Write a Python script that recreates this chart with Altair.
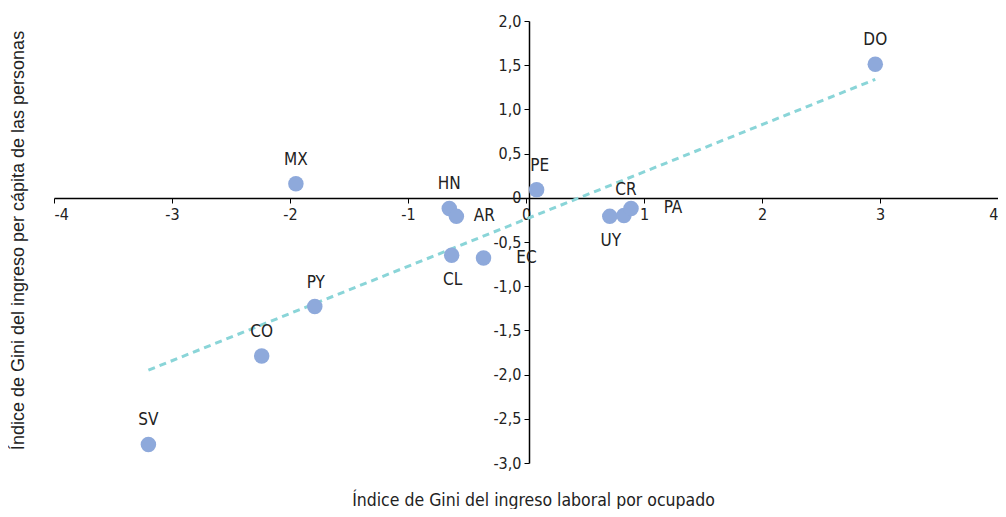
import altair as alt
import pandas as pd

countries = ["DO", "MX", "PE", "HN", "AR", "CL", "EC", "UY", "CR", "PA", "PY", "CO", "SV"]
x_vals = [2.96, -1.95, 0.09, -0.65, -0.59, -0.63, -0.36, 0.71, 0.83, 0.89, -1.79, -2.24, -3.20]
y_vals = [1.51, 0.16, 0.09, -0.12, -0.21, -0.65, -0.68, -0.21, -0.20, -0.12, -1.23, -1.79, -2.79]

trend_x = [-3.20, 2.96]
trend_y = [-1.95, 1.34]

x_title = "Índice de Gini del ingreso laboral por ocupado"
y_title = "Índice de Gini del ingreso per cápita de las personas"

# label placement (style): dx, dy
placement = {
    "DO": (0, -24), "MX": (0, -24), "PE": (3, -24),
    "HN": (0, -24), "AR": (28, 0), "CL": (1, 25),
    "EC": (43, 0), "UY": (1, 25), "CR": (2, -25),
    "PA": (42, 0), "PY": (1, -24), "CO": (0, -24),
    "SV": (0, -24),
}

df = pd.DataFrame({"pais": countries, "x": x_vals, "y": y_vals})
trend = pd.DataFrame({"x": trend_x, "y": trend_y})

FONT = "DejaVu Sans Condensed"
W, H = 944, 442
x_scale = alt.Scale(domain=[-4, 4], nice=False, zero=False)
y_scale = alt.Scale(domain=[-3, 2], nice=False, zero=False)

minus = "(datum.value < 0 ? '-' : '')"
x_axis = alt.Axis(
    values=[-4, -3, -2, -1, 0, 1, 2, 3, 4],
    labelExpr=minus + " + format(abs(datum.value), 'd')",
    orient="bottom", offset=-265, grid=False,
    domainColor="#000000", domainWidth=1.5, tickColor="#000000", tickSize=5,
    labelFont=FONT, labelFontSize=16, labelColor="#222222", labelPadding=3,
    title=x_title, titleFont=FONT, titleFontSize=17.5, titleFontWeight="normal",
    titleColor="#222222", titleY=293, titleX=479,
)
y_axis = alt.Axis(
    values=[-3, -2.5, -2, -1.5, -1, -0.5, 0, 0.5, 1, 1.5, 2],
    labelExpr="datum.value == 0 ? '0' : " + minus + " + replace(format(abs(datum.value), '.1f'), '.', ',')",
    orient="left", offset=-475, grid=False,
    domainColor="#000000", domainWidth=1.5, tickColor="#000000", tickSize=5,
    labelFont=FONT, labelFontSize=16, labelColor="#222222", labelPadding=3,
    title=y_title, titleFont="Liberation Sans", titleFontSize=18, titleFontWeight="normal",
    titleColor="#222222", titleX=-502, titleY=219,
)

base = alt.Chart(df)

points = base.mark_circle(size=240, color="#8EA9DB", opacity=1).encode(
    x=alt.X("x:Q", scale=x_scale, axis=x_axis),
    y=alt.Y("y:Q", scale=y_scale, axis=y_axis),
)

line = alt.Chart(trend).mark_line(color="#8AD5D8", strokeWidth=3, strokeDash=[7, 5]).encode(
    x=alt.X("x:Q", scale=x_scale),
    y=alt.Y("y:Q", scale=y_scale),
)

labels = []
for c in countries:
    dx, dy = placement[c]
    labels.append(
        base.transform_filter(alt.datum.pais == c).mark_text(
            font=FONT, fontSize=17, color="#222222", dx=dx, dy=dy, align="center", baseline="middle"
        ).encode(
            x=alt.X("x:Q", scale=x_scale),
            y=alt.Y("y:Q", scale=y_scale),
            text="pais:N",
        )
    )

chart = alt.layer(line, points, *labels).properties(
    width=W, height=H, background="#ffffff",
    autosize=alt.AutoSizeParams(type="none"),
    padding={"left": 46, "top": 13, "right": 0, "bottom": 46},
).configure_view(stroke=None)

chart.save("out.html", embed_options={"renderer": "svg", "actions": False})
